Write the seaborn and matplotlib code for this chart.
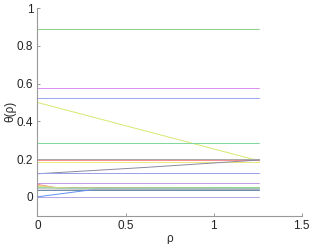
import numpy as np
import pandas as pd
import matplotlib
matplotlib.use("Agg")
import matplotlib.pyplot as plt
import seaborn as sns

# each curve: value at rho=0, at a break point, and at the end of the range
rho_end = 1.26
rho_break = [0.6, 0.6, 0.6, 0.6, 0.6, 0.6, 0.6, 0.6, 0.6, 0.6,
             0.6, 0.6, 0.6, 0.12, 0.15, 0.2, 0.25, 0.33, 0.6, 0.3]
theta_start = [0.89, 0.578, 0.525, 0.50, 0.285, 0.20, 0.197, 0.185, 0.122, 0.126,
               0.073, 0.052, 0.038, 0.066, 0.060, 0.055, 0.048, 0.0, 0.0, 0.042]
theta_break = [0.89, 0.578, 0.525, 0.352, 0.285, 0.20, 0.197, 0.185, 0.155, 0.126,
               0.073, 0.052, 0.038, 0.046, 0.045, 0.044, 0.043, 0.040, 0.0, 0.040]
theta_end = [0.89, 0.578, 0.525, 0.19, 0.285, 0.20, 0.197, 0.185, 0.195, 0.126,
             0.073, 0.052, 0.038, 0.044, 0.044, 0.043, 0.042, 0.040, 0.0, 0.040]
curve_colors = ["#8fd08f", "#d890f0", "#9aa6f5", "#d8e870", "#7fd89a",
                "#a8a8a8", "#f59090", "#eaea80", "#8a8aa0", "#9aa0e8",
                "#c09ae8", "#90d890", "#6a8aa8", "#f59090", "#f0c080",
                "#e0e070", "#90e0c0", "#6090f0", "#b0a8e0", "#b8b8b8"]

rows = []
for i in range(len(theta_start)):
    for r, t in zip([0.0, rho_break[i], rho_end],
                    [theta_start[i], theta_break[i], theta_end[i]]):
        rows.append({"curve": f"c{i}", "rho": r, "theta": t})
df = pd.DataFrame(rows)
palette = {f"c{i}": c for i, c in enumerate(curve_colors)}

sns.set_style("white")
plt.rcParams["font.family"] = ["Liberation Sans", "DejaVu Sans"]

fig = plt.figure(figsize=(3.12, 2.44), dpi=100)
ax = fig.add_axes([0.12, 0.116, 0.847, 0.851])
sns.lineplot(data=df, x="rho", y="theta", hue="curve", palette=palette,
             legend=False, lw=0.7, ax=ax, sort=False, estimator=None)

ax.set_xlim(0, 1.5)
ax.set_ylim(-0.1, 1)
ax.set_xticks([0, 0.5, 1, 1.5])
ax.set_xticklabels(["0", "0.5", "1", "1.5"])
ax.set_yticks([0, 0.2, 0.4, 0.6, 0.8, 1])
ax.set_yticklabels(["0", "0.2", "0.4", "0.6", "0.8", "1"])
ax.set_xlabel("ρ", fontsize=8.5, labelpad=1)
ax.set_ylabel("θ(ρ)", fontsize=8.5, labelpad=0)
ax.tick_params(direction="in", length=2.5, width=0.6, color="#888888",
               labelsize=8.5, pad=3, labelcolor="#222222")
ax.tick_params(axis="y", which="both", left=True)
ax.tick_params(axis="x", which="both", bottom=True)
for s in ["top", "right"]:
    ax.spines[s].set_visible(False)
for s in ["left", "bottom"]:
    ax.spines[s].set_color("#999999")
    ax.spines[s].set_linewidth(0.8)

fig.savefig("out.png", dpi=100, facecolor="white")
